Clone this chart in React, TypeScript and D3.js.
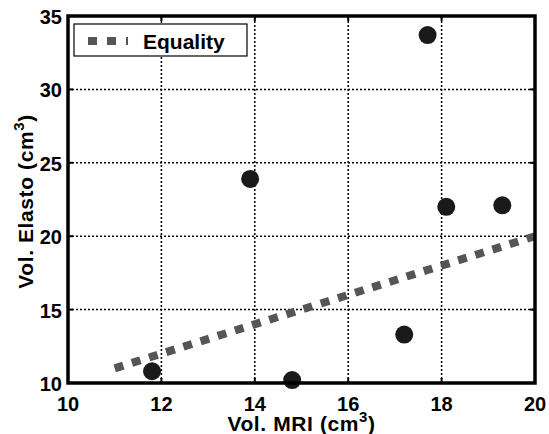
import React from "react";
import * as d3 from "d3";

const xTicks = [10, 12, 14, 16, 18, 20];
const yTicks = [10, 15, 20, 25, 30, 35];
const mriVol = [11.8, 13.9, 14.8, 17.2, 17.7, 18.1, 19.3];
const elastoVol = [10.8, 23.9, 10.2, 13.3, 33.7, 22.0, 22.1];
const equalityLine = [11, 20];
const legendLabel = "Equality";

const W = 549;
const H = 434;
const M = { left: 68, right: 14, top: 16, bottom: 51 };

export default function App() {
  const x = d3.scaleLinear().domain([10, 20]).range([M.left, W - M.right]);
  const y = d3.scaleLinear().domain([10, 35]).range([H - M.bottom, M.top]);
  const line = d3
    .line<number>()
    .x((d) => x(d))
    .y((d) => y(d));
  const font = "'Liberation Sans', Arial, sans-serif";
  const x0 = x(10), x1 = x(20), y0 = y(10), y1 = y(35);
  return (
    <svg
      width={W}
      height={H}
      style={{ position: "absolute", left: 0, top: 0, background: "#fff" }}
      fontFamily={font}
      fontWeight="bold"
    >
      {/* grid */}
      {xTicks.slice(1, -1).map((t) => (
        <line key={"gx" + t} x1={x(t)} x2={x(t)} y1={y0} y2={y1} stroke="#000" strokeWidth={1.5} strokeDasharray="2 2" />
      ))}
      {yTicks.slice(1, -1).map((t) => (
        <line key={"gy" + t} x1={x0} x2={x1} y1={y(t)} y2={y(t)} stroke="#000" strokeWidth={1.5} strokeDasharray="2 2" />
      ))}
      {/* ticks */}
      {xTicks.map((t) => (
        <g key={"tx" + t}>
          <line x1={x(t)} x2={x(t)} y1={y0} y2={y0 - 5} stroke="#000" strokeWidth={2} />
          <line x1={x(t)} x2={x(t)} y1={y1} y2={y1 + 5} stroke="#000" strokeWidth={2} />
          <text x={x(t)} y={y0 + 27.5} textAnchor="middle" fontSize={20}>{t}</text>
        </g>
      ))}
      {yTicks.map((t) => (
        <g key={"ty" + t}>
          <line x1={x0} x2={x0 + 5} y1={y(t)} y2={y(t)} stroke="#000" strokeWidth={2} />
          <line x1={x1} x2={x1 - 5} y1={y(t)} y2={y(t)} stroke="#000" strokeWidth={2} />
          <text x={x0 - 6} y={y(t) + 8} textAnchor="end" fontSize={20}>{t}</text>
        </g>
      ))}
      {/* equality line */}
      <path d={line(equalityLine) || ""} fill="none" stroke="#555" strokeWidth={8} strokeDasharray="9 9" />
      {/* points */}
      {mriVol.map((v, i) => (
        <circle key={i} cx={x(v)} cy={y(elastoVol[i])} r={9} fill="#1a1a1a" />
      ))}
      {/* axes box */}
      <rect x={x0} y={y1} width={x1 - x0} height={y0 - y1} fill="none" stroke="#000" strokeWidth={3.5} />
      {/* legend */}
      <rect x={74} y={24} width={173} height={32} fill="#fff" stroke="#000" strokeWidth={1.2} />
      <line x1={88} x2={128} y1={41} y2={41} stroke="#555" strokeWidth={8} strokeDasharray="9 10" />
      <text x={143} y={49} fontSize={21}>{legendLabel}</text>
      {/* axis labels */}
      <text x={(x0 + x1) / 2} y={431} textAnchor="middle" fontSize={21} letterSpacing={0.6}>
        Vol. MRI (cm<tspan dy={-9} fontSize={15}>3</tspan><tspan dy={9}>)</tspan>
      </text>
      <text transform={`translate(33, ${(y0 + y1) / 2 + 2}) rotate(-90)`} textAnchor="middle" fontSize={21} letterSpacing={0.6}>
        Vol. Elasto (cm<tspan dy={-9} fontSize={15}>3</tspan><tspan dy={9}>)</tspan>
      </text>
    </svg>
  );
}
